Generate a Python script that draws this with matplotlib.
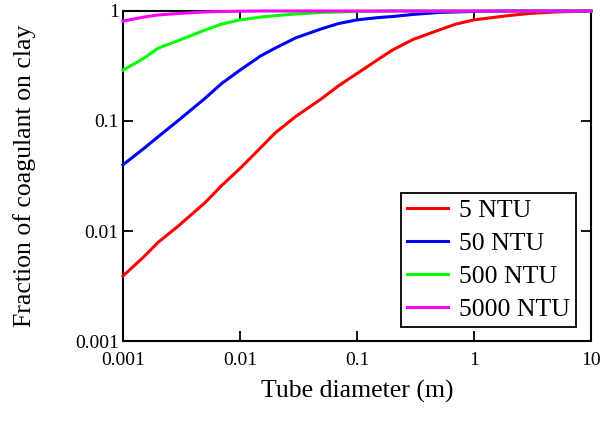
import matplotlib.pyplot as plt

# tube diameter (m) and read-off fractions for each turbidity
diameter = [0.001, 0.0015, 0.002, 0.003, 0.005, 0.007, 0.01, 0.015, 0.02, 0.03,
            0.05, 0.07, 0.1, 0.15, 0.2, 0.3, 0.5, 0.7, 1, 2, 3, 5, 10]
ntu_5 = [0.0039, 0.0058, 0.0079, 0.0112, 0.018, 0.026, 0.037, 0.057, 0.078, 0.11,
         0.16, 0.21, 0.27, 0.36, 0.44, 0.55, 0.67, 0.76, 0.83, 0.91, 0.95, 0.98, 1.0]
ntu_50 = [0.040, 0.056, 0.072, 0.102, 0.16, 0.22, 0.29, 0.39, 0.46, 0.57,
          0.69, 0.77, 0.83, 0.87, 0.89, 0.93, 0.97, 0.98, 0.99, 1.0, 1.0, 1.0, 1.0]
ntu_500 = [0.29, 0.37, 0.46, 0.54, 0.67, 0.76, 0.83, 0.88, 0.906, 0.94,
           0.97, 0.98, 0.99, 0.995, 1.0, 1.0, 1.0, 1.0, 1.0, 1.0, 1.0, 1.0, 1.0]
ntu_5000 = [0.81, 0.88, 0.92, 0.95, 0.98, 0.99, 0.995, 1.0, 1.0, 1.0,
            1.0, 1.0, 1.0, 1.0, 1.0, 1.0, 1.0, 1.0, 1.0, 1.0, 1.0, 1.0, 1.0]

labels = ["5 NTU", "50 NTU", "500 NTU", "5000 NTU"]
colors = ["#ff0000", "#0000ff", "#00ff00", "#ff00ff"]

plt.rcParams['font.family'] = ['Liberation Serif', 'DejaVu Serif']

fig = plt.figure(figsize=(6.07, 4.26), dpi=100)
ax = fig.add_axes([0.2026, 0.1995, 0.771, 0.7747])

for ys, lab, c in zip([ntu_5, ntu_50, ntu_500, ntu_5000], labels, colors):
    ax.plot(diameter, ys, color=c, lw=2.2, label=lab, clip_on=False, zorder=3)

ax.set_xscale('log')
ax.set_yscale('log')
ax.set_xlim(0.001, 10)
ax.set_ylim(0.001, 1)
ax.set_xticks([0.001, 0.01, 0.1, 1, 10])
ax.set_xticklabels(["0.001", "0.01", "0.1", "1", "10"])
ax.set_yticks([0.001, 0.01, 0.1, 1])
ax.set_yticklabels(["0.001", "0.01", "0.1", "1"])
ax.minorticks_off()
ax.tick_params(direction='in', length=7, width=1.3, labelsize=14,
               top=True, right=True)
ax.tick_params(axis='x', pad=8)
ax.tick_params(axis='y', pad=3)
for s in ax.spines.values():
    s.set_linewidth(1.5)

ax.set_xlabel("Tube diameter (m)", fontsize=18.5, labelpad=8)
ax.set_ylabel("Fraction of coagulant on clay", fontsize=18.5, labelpad=28)

leg = ax.legend(loc='lower right', bbox_to_anchor=(0.968, 0.042), borderaxespad=0,
                fontsize=18.5, fancybox=False, edgecolor='black', framealpha=1,
                handlelength=1.6, handletextpad=0.4, borderpad=0.25,
                labelspacing=0.38)
leg.get_frame().set_linewidth(1.3)

fig.savefig("out.png", dpi=100)
